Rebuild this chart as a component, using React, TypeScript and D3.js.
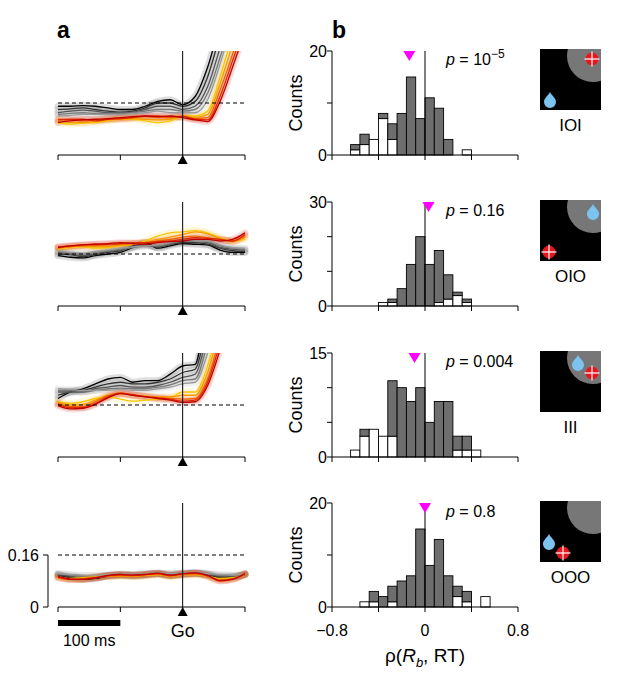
import React from "react";
import * as d3 from "d3";

// time axis (ms from Go)
const TIMES = [-200, -180, -160, -140, -120, -100, -80, -60, -40, -20, 0, 20, 40, 60, 80, 100];
const TIME_TICKS = [-200, -100, 0, 100];

// black -> gray -> yellow -> red
const TRACE_COLORS = [
  "#000000", "#333333", "#555555", "#777777", "#9a9a9a",
  "#f7c600", "#f59b00", "#f06400", "#e02800", "#c00000",
];

const IOI_TRACES = [
  [0.15, 0.15, 0.152, 0.15, 0.145, 0.14, 0.14, 0.15, 0.165, 0.17, 0.155, 0.18, 0.27, 0.4, 0.5, 0.6],
  [0.14, 0.142, 0.145, 0.14, 0.135, 0.132, 0.135, 0.145, 0.16, 0.16, 0.15, 0.165, 0.24, 0.37, 0.5, 0.6],
  [0.13, 0.135, 0.138, 0.135, 0.13, 0.13, 0.132, 0.14, 0.15, 0.15, 0.14, 0.15, 0.21, 0.33, 0.46, 0.6],
  [0.125, 0.128, 0.13, 0.128, 0.128, 0.128, 0.13, 0.135, 0.14, 0.14, 0.135, 0.14, 0.19, 0.3, 0.43, 0.56],
  [0.12, 0.122, 0.125, 0.125, 0.125, 0.125, 0.128, 0.13, 0.135, 0.13, 0.13, 0.13, 0.17, 0.28, 0.41, 0.53],
  [0.1, 0.095, 0.098, 0.1, 0.105, 0.11, 0.11, 0.105, 0.1, 0.105, 0.12, 0.12, 0.135, 0.24, 0.37, 0.49],
  [0.105, 0.1, 0.1, 0.105, 0.108, 0.11, 0.112, 0.11, 0.108, 0.11, 0.118, 0.115, 0.125, 0.22, 0.34, 0.46],
  [0.11, 0.108, 0.105, 0.108, 0.11, 0.112, 0.115, 0.118, 0.115, 0.115, 0.12, 0.112, 0.115, 0.2, 0.31, 0.43],
  [0.108, 0.11, 0.11, 0.105, 0.11, 0.112, 0.115, 0.12, 0.12, 0.118, 0.118, 0.11, 0.108, 0.18, 0.29, 0.4],
  [0.1, 0.105, 0.108, 0.11, 0.112, 0.115, 0.118, 0.12, 0.118, 0.12, 0.115, 0.108, 0.103, 0.165, 0.27, 0.38],
];

const OIO_TRACES = [
  [0.155, 0.15, 0.148, 0.155, 0.16, 0.165, 0.18, 0.195, 0.178, 0.185, 0.192, 0.19, 0.188, 0.172, 0.165, 0.165],
  [0.16, 0.158, 0.152, 0.158, 0.165, 0.17, 0.185, 0.19, 0.18, 0.19, 0.195, 0.195, 0.19, 0.178, 0.17, 0.168],
  [0.165, 0.16, 0.155, 0.16, 0.168, 0.172, 0.182, 0.188, 0.182, 0.19, 0.198, 0.198, 0.195, 0.18, 0.175, 0.172],
  [0.168, 0.162, 0.16, 0.165, 0.17, 0.175, 0.18, 0.185, 0.185, 0.192, 0.2, 0.2, 0.198, 0.185, 0.178, 0.175],
  [0.17, 0.165, 0.163, 0.168, 0.172, 0.178, 0.182, 0.185, 0.188, 0.195, 0.202, 0.2, 0.2, 0.188, 0.18, 0.178],
  [0.175, 0.18, 0.182, 0.178, 0.18, 0.185, 0.19, 0.2, 0.215, 0.225, 0.228, 0.232, 0.225, 0.21, 0.2, 0.205],
  [0.18, 0.182, 0.185, 0.183, 0.183, 0.188, 0.19, 0.195, 0.205, 0.212, 0.22, 0.228, 0.222, 0.208, 0.198, 0.212],
  [0.178, 0.183, 0.185, 0.186, 0.188, 0.19, 0.192, 0.195, 0.2, 0.205, 0.212, 0.215, 0.21, 0.205, 0.2, 0.215],
  [0.182, 0.185, 0.188, 0.19, 0.19, 0.192, 0.195, 0.195, 0.198, 0.2, 0.205, 0.21, 0.208, 0.205, 0.2, 0.22],
  [0.18, 0.185, 0.188, 0.19, 0.192, 0.195, 0.192, 0.19, 0.195, 0.198, 0.2, 0.205, 0.205, 0.2, 0.205, 0.225],
];

const III_TRACES = [
  [0.18, 0.2, 0.21, 0.225, 0.24, 0.245, 0.23, 0.235, 0.235, 0.255, 0.28, 0.285, 0.5, 0.7, 0.8, 0.9],
  [0.19, 0.2, 0.205, 0.215, 0.225, 0.23, 0.225, 0.225, 0.23, 0.24, 0.26, 0.27, 0.42, 0.6, 0.8, 0.9],
  [0.2, 0.2, 0.2, 0.21, 0.215, 0.22, 0.215, 0.215, 0.22, 0.23, 0.245, 0.255, 0.38, 0.55, 0.7, 0.85],
  [0.205, 0.205, 0.2, 0.205, 0.21, 0.212, 0.21, 0.21, 0.215, 0.222, 0.235, 0.24, 0.35, 0.5, 0.65, 0.8],
  [0.21, 0.208, 0.205, 0.205, 0.205, 0.208, 0.205, 0.205, 0.21, 0.215, 0.225, 0.23, 0.32, 0.47, 0.6, 0.75],
  [0.17, 0.165, 0.17, 0.18, 0.185, 0.178, 0.172, 0.175, 0.178, 0.182, 0.2, 0.2, 0.28, 0.42, 0.55, 0.7],
  [0.168, 0.16, 0.162, 0.175, 0.19, 0.195, 0.19, 0.188, 0.185, 0.185, 0.19, 0.19, 0.26, 0.4, 0.52, 0.65],
  [0.165, 0.155, 0.155, 0.17, 0.188, 0.198, 0.19, 0.186, 0.183, 0.18, 0.178, 0.18, 0.24, 0.37, 0.5, 0.62],
  [0.162, 0.152, 0.152, 0.165, 0.185, 0.196, 0.192, 0.186, 0.182, 0.178, 0.172, 0.175, 0.23, 0.35, 0.48, 0.6],
  [0.158, 0.148, 0.15, 0.162, 0.182, 0.195, 0.19, 0.185, 0.18, 0.175, 0.168, 0.17, 0.22, 0.33, 0.46, 0.58],
];

const OOO_TRACES = [
  [0.1, 0.09, 0.085, 0.088, 0.095, 0.098, 0.095, 0.097, 0.102, 0.096, 0.1, 0.104, 0.1, 0.09, 0.092, 0.1],
  [0.098, 0.092, 0.088, 0.09, 0.096, 0.098, 0.097, 0.1, 0.102, 0.098, 0.1, 0.103, 0.1, 0.092, 0.093, 0.1],
  [0.1, 0.095, 0.09, 0.093, 0.097, 0.1, 0.098, 0.1, 0.103, 0.1, 0.102, 0.105, 0.1, 0.095, 0.095, 0.1],
  [0.102, 0.098, 0.095, 0.095, 0.098, 0.1, 0.1, 0.102, 0.104, 0.102, 0.104, 0.106, 0.102, 0.098, 0.097, 0.102],
  [0.103, 0.1, 0.098, 0.097, 0.1, 0.102, 0.1, 0.103, 0.105, 0.103, 0.105, 0.106, 0.103, 0.1, 0.098, 0.102],
  [0.092, 0.088, 0.09, 0.093, 0.095, 0.096, 0.095, 0.097, 0.1, 0.095, 0.1, 0.1, 0.095, 0.088, 0.09, 0.1],
  [0.09, 0.086, 0.088, 0.092, 0.094, 0.095, 0.094, 0.097, 0.1, 0.094, 0.098, 0.1, 0.094, 0.085, 0.088, 0.1],
  [0.09, 0.085, 0.087, 0.09, 0.095, 0.097, 0.096, 0.1, 0.102, 0.096, 0.1, 0.102, 0.095, 0.082, 0.086, 0.1],
  [0.092, 0.085, 0.086, 0.09, 0.096, 0.1, 0.098, 0.1, 0.103, 0.097, 0.102, 0.104, 0.096, 0.08, 0.085, 0.102],
  [0.094, 0.086, 0.085, 0.09, 0.097, 0.1, 0.098, 0.1, 0.104, 0.098, 0.103, 0.105, 0.097, 0.082, 0.086, 0.103],
];

const THRESHOLD = 0.16;

// histogram bins (lower edges), width 0.08
const BIN_STARTS = [-0.64, -0.56, -0.48, -0.4, -0.32, -0.24, -0.16, -0.08, 0, 0.08, 0.16, 0.24, 0.32, 0.4, 0.48];
const BIN_WIDTH = 0.08;
const RHO_TICKS = [-0.8, -0.4, 0, 0.4, 0.8];
const RHO_LABELS = [-0.8, 0, 0.8];

const IOI_WHITE = [1, 2, 3, 7, 3, 0, 0, 0, 0, 0, 0, 0, 1, 0, 0];
const IOI_GRAY = [1, 2, 0, 1, 3, 8, 15, 7, 11, 9, 3, 0, 0, 0, 0];
const OIO_WHITE = [0, 0, 0, 1, 1, 0, 0, 0, 0, 1, 2, 3, 1, 0, 0];
const OIO_GRAY = [0, 0, 0, 0, 1, 5, 12, 20, 12, 15, 7, 1, 1, 0, 0];
const III_WHITE = [1, 3, 4, 3, 3, 0, 0, 0, 0, 0, 0, 1, 1, 1, 0];
const III_GRAY = [0, 1, 0, 0, 8, 10, 8, 10, 5, 8, 8, 2, 2, 0, 0];
const OOO_WHITE = [0, 1, 1, 0, 1, 0, 0, 0, 0, 0, 0, 2, 1, 0, 2];
const OOO_GRAY = [0, 0, 2, 2, 3, 5, 6, 15, 8, 13, 6, 2, 2, 0, 0];

const CONDITIONS = ["IOI", "OIO", "III", "OOO"];
const P_TEXT = ["10", "0.16", "0.004", "0.8"];
const P_EXP = ["\u22125", "", "", ""];
const MEAN_RHO = [-0.135, 0.03, -0.09, 0];
const COUNT_MAX = [20, 30, 15, 20];
const COUNT_TICKS = [[0, 10, 20], [0, 10, 20, 30], [0, 5, 10, 15], [0, 10, 20]];

const TRACES = [IOI_TRACES, OIO_TRACES, III_TRACES, OOO_TRACES];
const WHITE = [IOI_WHITE, OIO_WHITE, III_WHITE, OOO_WHITE];
const GRAY = [IOI_GRAY, OIO_GRAY, III_GRAY, OOO_GRAY];

// icon schematic: reward drop and target offsets inside the 61px box
const ICONS = [
  { drop: [10, 52], target: [52, 10] },
  { drop: [53, 13], target: [9, 52] },
  { drop: [38, 13], target: [52, 22] },
  { drop: [9, 42], target: [23, 52] },
];

const FONT = "'Liberation Sans', Arial, Helvetica, sans-serif";
const ROW_AXIS = [155, 306, 457, 607];
const ROW_H = 104;

function TracePanel({ row }: { row: number }) {
  const axisY = ROW_AXIS[row];
  const x = d3.scaleLinear().domain([-200, 100]).range([58, 245]);
  const y = d3.scaleLinear().domain([0, THRESHOLD]).range([axisY, axisY - ROW_H / 2]);
  const line = d3
    .line<number>()
    .x((_, i) => x(TIMES[i]))
    .y((d) => y(d))
    .curve(d3.curveMonotoneX);
  const traces = TRACES[row];
  const clipId = `clip-a-${row}`;
  const goX = x(0);
  return (
    <g>
      <defs>
        <clipPath id={clipId}>
          <rect x={x(-200) - 4} y={axisY - ROW_H} width={x(100) - x(-200) + 8} height={ROW_H} />
        </clipPath>
      </defs>
      <g clipPath={`url(#${clipId})`}>
        {traces.map((t, i) => (
          <path key={`h${i}`} d={line(t) || ""} fill="none" stroke={TRACE_COLORS[i]}
            strokeOpacity={0.13} strokeWidth={7} strokeLinecap="round" />
        ))}
        {traces.map((t, i) => (
          <path key={`l${i}`} d={line(t) || ""} fill="none" stroke={TRACE_COLORS[i]} strokeWidth={1.3} />
        ))}
      </g>
      <line x1={x(-200)} x2={x(100)} y1={y(THRESHOLD)} y2={y(THRESHOLD)}
        stroke="#000" strokeWidth={1} strokeDasharray="4,3" />
      <line x1={goX} x2={goX} y1={axisY - ROW_H} y2={axisY} stroke="#000" strokeWidth={1} />
      <line x1={x(-200)} x2={x(100)} y1={axisY} y2={axisY} stroke="#000" strokeWidth={1} />
      {TIME_TICKS.map((t) => (
        <line key={t} x1={x(t)} x2={x(t)} y1={axisY} y2={axisY + 5} stroke="#000" strokeWidth={1} />
      ))}
      <path d={`M${goX},${axisY}L${goX + 5},${axisY + 9}L${goX - 5},${axisY + 9}Z`} fill="#000" />
      {row === 3 && (
        <g fontFamily={FONT} fontSize={16}>
          <line x1={48} x2={48} y1={y(THRESHOLD)} y2={axisY} stroke="#000" />
          {[0, THRESHOLD].map((v) => (
            <g key={v}>
              <line x1={43} x2={48} y1={y(v)} y2={y(v)} stroke="#000" />
              <text x={39} y={y(v) + 6} textAnchor="end">{v === 0 ? "0" : "0.16"}</text>
            </g>
          ))}
          <rect x={x(-200)} y={620} width={x(-100) - x(-200)} height={6} fill="#000" />
          <text x={(x(-200) + x(-100)) / 2} y={646} textAnchor="middle">100 ms</text>
          <text x={goX} y={637} textAnchor="middle" fontSize={18}>Go</text>
        </g>
      )}
    </g>
  );
}

function HistPanel({ row }: { row: number }) {
  const axisY = ROW_AXIS[row];
  const x = d3.scaleLinear().domain([-0.8, 0.8]).range([332, 518]);
  const y = d3.scaleLinear().domain([0, COUNT_MAX[row]]).range([axisY, axisY - ROW_H]);
  const white = WHITE[row];
  const gray = GRAY[row];
  const mx = x(MEAN_RHO[row]);
  const top = axisY - ROW_H;
  return (
    <g fontFamily={FONT}>
      {BIN_STARTS.map((b, i) => {
        const x0 = x(b);
        const w = x(b + BIN_WIDTH) - x0;
        return (
          <g key={i}>
            {white[i] > 0 && (
              <rect x={x0} y={y(white[i])} width={w} height={y(0) - y(white[i])}
                fill="#fff" stroke="#000" strokeWidth={0.9} />
            )}
            {gray[i] > 0 && (
              <rect x={x0} y={y(white[i] + gray[i])} width={w} height={y(white[i]) - y(white[i] + gray[i])}
                fill="#6e6e6e" stroke="#000" strokeWidth={0.9} />
            )}
          </g>
        );
      })}
      <line x1={x(0)} x2={x(0)} y1={top} y2={axisY} stroke="#000" strokeWidth={1} />
      <line x1={x(-0.8)} x2={x(0.8)} y1={axisY} y2={axisY} stroke="#000" strokeWidth={1} />
      {RHO_TICKS.map((t) => (
        <line key={t} x1={x(t)} x2={x(t)} y1={axisY} y2={axisY + 5} stroke="#000" />
      ))}
      <line x1={x(-0.8)} x2={x(-0.8)} y1={top} y2={axisY} stroke="#000" strokeWidth={1} />
      {COUNT_TICKS[row].map((c) => (
        <line key={c} x1={x(-0.8) - 5} x2={x(-0.8)} y1={y(c)} y2={y(c)} stroke="#000" />
      ))}
      {[0, COUNT_MAX[row]].map((c) => (
        <text key={c} x={327} y={y(c) + 6} textAnchor="end" fontSize={16}>{c}</text>
      ))}
      <text transform={`translate(302,${axisY - ROW_H / 2}) rotate(-90)`} textAnchor="middle" fontSize={18}>
        Counts
      </text>
      <path d={`M${mx - 6},${top}L${mx + 6},${top}L${mx},${top + 10}Z`} fill="#ff00ff" />
      <text x={446} y={top + 14} fontSize={16}>
        <tspan fontStyle="italic">p</tspan> = {P_TEXT[row]}
        {P_EXP[row] && (
          <tspan dy={-7} fontSize={12}>{P_EXP[row]}</tspan>
        )}
      </text>
      {row === 3 && (
        <g>
          {RHO_LABELS.map((t) => (
            <text key={t} x={x(t)} y={636} textAnchor="middle" fontSize={16}>
              {t === 0 ? "0" : t < 0 ? `\u2212${Math.abs(t)}` : `${t}`}
            </text>
          ))}
          <text x={x(0)} y={662} textAnchor="middle" fontSize={19}>
            ρ(<tspan fontStyle="italic">R</tspan>
            <tspan fontStyle="italic" fontSize={13} dy={5}>b</tspan>
            <tspan dy={-5}>, RT)</tspan>
          </text>
        </g>
      )}
    </g>
  );
}

function Icon({ row }: { row: number }) {
  const sx = 540;
  const sy = ROW_AXIS[row] - ROW_H - 2;
  const size = 61;
  const { drop, target } = ICONS[row];
  const clipId = `icon-${row}`;
  const [dx, dy] = [sx + drop[0], sy + drop[1]];
  const [tx, ty] = [sx + target[0], sy + target[1]];
  return (
    <g>
      <defs>
        <clipPath id={clipId}>
          <rect x={sx} y={sy} width={size} height={size} />
        </clipPath>
      </defs>
      <rect x={sx} y={sy} width={size} height={size} fill="#000" />
      <circle cx={sx + 53} cy={sy + 7} r={26} fill="#777" clipPath={`url(#${clipId})`} />
      <path
        d={`M${dx},${dy - 9}C${dx + 2},${dy - 5} ${dx + 6},${dy - 3} ${dx + 6},${dy + 1}A6,6 0 0 1 ${dx - 6},${dy + 1}C${dx - 6},${dy - 3} ${dx - 2},${dy - 5} ${dx},${dy - 9}Z`}
        fill="#7cc4ef"
      />
      <circle cx={tx} cy={ty} r={6.5} fill="#e8141e" />
      <line x1={tx - 7.5} x2={tx + 7.5} y1={ty} y2={ty} stroke="#fff" strokeWidth={1.2} />
      <line x1={tx} x2={tx} y1={ty - 7.5} y2={ty + 7.5} stroke="#fff" strokeWidth={1.2} />
      <text x={sx + size / 2} y={sy + size + 21} textAnchor="middle" fontFamily={FONT} fontSize={17}>
        {CONDITIONS[row]}
      </text>
    </g>
  );
}

export default function App() {
  const rows = [0, 1, 2, 3];
  return (
    <svg width={617} height={678} style={{ position: "absolute", left: 0, top: 0, background: "#fff" }}>
      <text x={57} y={38} fontFamily={FONT} fontSize={23} fontWeight="bold">a</text>
      <text x={332} y={38} fontFamily={FONT} fontSize={23} fontWeight="bold">b</text>
      {rows.map((r) => (
        <g key={r}>
          <TracePanel row={r} />
          <HistPanel row={r} />
          <Icon row={r} />
        </g>
      ))}
    </svg>
  );
}
